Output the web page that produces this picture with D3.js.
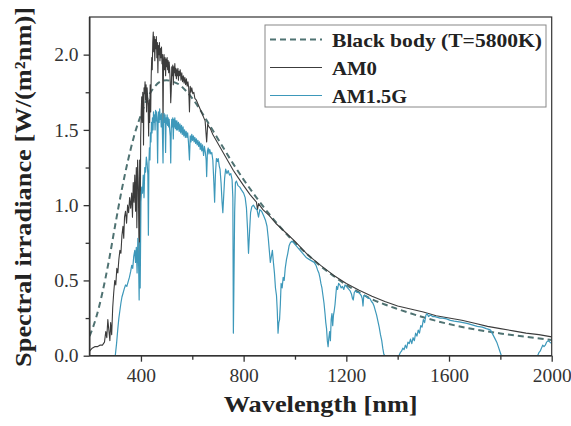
<!DOCTYPE html>
<html><head><meta charset="utf-8">
<script src="https://cdn.jsdelivr.net/npm/d3@7"></script>
<style>body{margin:0;background:#fff} svg{display:block}</style>
</head><body><svg id="chart" width="571" height="426"></svg>
<script>
const xTicks=[400,800,1200,1600,2000];
const xMinorTicks=[600,1000,1400,1800];
const yTicks=[0,0.5,1.0,1.5,2.0];
const yMinorTicks=[0.25,0.75,1.25,1.75];
const seriesNames=["Black body (T=5800K)","AM0","AM1.5G"];
const xTitle="Wavelength [nm]";
const yTitle="Spectral irradiance [W/(m\u00B2nm)]";

const blackBody=[[200,0.13],[225,0.25],[250,0.42],[275,0.63],[300,0.87],[325,1.10],[350,1.30],[375,1.47],[400,1.60],[425,1.71],[450,1.78],[475,1.82],[500,1.83],[525,1.82],[550,1.80],[575,1.76],[600,1.71],[650,1.58],[700,1.44],[750,1.30],[800,1.17],[850,1.05],[900,0.94],[950,0.84],[1000,0.75],[1050,0.67],[1100,0.595],[1150,0.53],[1200,0.47],[1250,0.42],[1300,0.375],[1350,0.34],[1400,0.31],[1500,0.255],[1600,0.21],[1700,0.175],[1800,0.148],[1900,0.125],[2000,0.105]];

const am0=[[200,0.03],[210,0.05],[220,0.06],[230,0.06],[240,0.07],[250,0.07],[258,0.09],[263,0.16],[267,0.12],[271,0.24],[275,0.17],[279,0.10],[282,0.22],[286,0.14],[290,0.32],[294,0.42],[298,0.50],[302,0.47],[306,0.58],[310,0.55],[314,0.64],[318,0.70],[322,0.68],[326,0.80],[330,0.86],[333,0.78],[336,0.92],[340,0.96],[344,0.88],[348,1.00],[352,0.95],[356,1.05],[360,0.98],[364,1.08],[367,0.92],[370,1.15],[373,1.02],[376,1.20],[379,0.96],[382,1.25],[384,0.85],[387,1.30],[390,1.12],[393,0.60],[395,1.30],[397,0.75],[399,1.45],[401,1.62],[403,1.72],[405,1.55],[407,1.75],[409,1.70],[410,1.40],[412,1.78],[414,1.74],[416,1.82],[418,1.70],[420,1.80],[422,1.62],[424,1.78],[426,1.72],[428,1.66],[430,1.46],[432,1.70],[434,1.55],[436,1.80],[438,1.62],[440,1.86],[442,1.98],[444,1.90],[446,2.08],[448,2.15],[450,2.02],[452,2.12],[454,1.96],[456,2.10],[458,2.04],[460,2.12],[462,1.98],[464,2.08],[466,1.88],[468,2.06],[470,2.00],[472,2.08],[474,1.96],[476,2.04],[478,1.98],[480,2.05],[482,1.94],[484,2.00],[486,1.50],[488,1.96],[490,2.00],[492,1.90],[494,1.98],[496,1.86],[498,1.97],[500,1.92],[502,1.98],[504,1.90],[506,1.96],[508,1.88],[510,1.95],[512,1.90],[514,1.82],[516,1.68],[518,1.76],[520,1.92],[522,1.86],[524,1.93],[526,1.80],[528,1.92],[530,1.88],[532,1.94],[534,1.86],[536,1.91],[538,1.84],[540,1.90],[542,1.86],[544,1.91],[546,1.83],[548,1.89],[550,1.86],[553,1.90],[556,1.83],[559,1.88],[562,1.82],[565,1.86],[568,1.81],[571,1.85],[574,1.80],[577,1.84],[580,1.79],[583,1.82],[586,1.78],[589,1.62],[592,1.79],[595,1.75],[598,1.78],[602,1.74],[606,1.75],[610,1.71],[615,1.70],[620,1.68],[625,1.66],[630,1.64],[635,1.62],[640,1.60],[645,1.58],[650,1.56],[656,1.42],[660,1.54],[665,1.52],[670,1.51],[680,1.47],[690,1.44],[700,1.41],[720,1.35],[740,1.29],[760,1.23],[780,1.18],[800,1.13],[825,1.07],[850,1.02],[854,0.97],[858,1.01],[875,0.97],[900,0.93],[925,0.88],[950,0.84],[975,0.80],[1000,0.76],[1050,0.67],[1100,0.60],[1150,0.535],[1200,0.48],[1250,0.435],[1300,0.395],[1350,0.36],[1400,0.33],[1450,0.31],[1500,0.29],[1550,0.265],[1600,0.25],[1650,0.235],[1700,0.215],[1750,0.195],[1800,0.18],[1850,0.165],[1900,0.15],[1950,0.14],[2000,0.125]];

const am15g=[[300,0],[305,0.08],[310,0.18],[314,0.25],[318,0.30],[322,0.35],[326,0.39],[331,0.42],[336,0.45],[340,0.47],[345,0.46],[350,0.49],[355,0.52],[360,0.56],[364,0.60],[368,0.58],[372,0.66],[376,0.70],[379,0.62],[382,0.72],[385,0.55],[388,0.78],[391,0.60],[393,0.37],[395,0.75],[397,0.45],[400,1.02],[403,1.12],[406,1.08],[409,1.20],[412,1.05],[415,1.25],[418,1.22],[421,1.32],[424,1.28],[427,1.20],[429,0.80],[431,1.28],[433,1.38],[435,1.30],[437,1.48],[439,1.42],[441,1.55],[443,1.48],[445,1.58],[447,1.50],[449,1.62],[451,1.55],[453,1.60],[455,1.50],[457,1.63],[459,1.56],[461,1.62],[463,1.52],[465,1.28],[467,1.58],[469,1.62],[471,1.55],[473,1.64],[475,1.57],[477,1.60],[479,1.52],[481,1.61],[483,1.54],[486,1.28],[488,1.56],[490,1.61],[492,1.55],[494,1.60],[496,1.35],[498,1.58],[500,1.54],[502,1.60],[504,1.53],[506,1.58],[508,1.52],[510,1.57],[512,1.50],[514,1.46],[516,1.28],[518,1.50],[520,1.57],[522,1.52],[524,1.58],[526,1.44],[528,1.57],[530,1.52],[532,1.58],[534,1.51],[536,1.56],[538,1.50],[540,1.56],[543,1.50],[546,1.55],[549,1.49],[552,1.54],[555,1.48],[558,1.53],[561,1.47],[564,1.52],[567,1.46],[570,1.50],[573,1.45],[576,1.49],[579,1.45],[582,1.48],[585,1.42],[589,1.30],[592,1.46],[595,1.42],[598,1.47],[601,1.43],[604,1.46],[607,1.42],[610,1.45],[613,1.41],[616,1.44],[619,1.40],[622,1.43],[625,1.39],[628,1.42],[631,1.37],[634,1.41],[637,1.36],[640,1.40],[644,1.33],[647,1.39],[651,1.35],[654,1.30],[656,1.19],[659,1.36],[662,1.38],[665,1.34],[668,1.37],[672,1.34],[676,1.35],[680,1.30],[684,1.15],[687,1.02],[690,1.20],[694,1.31],[698,1.29],[701,1.31],[705,1.26],[708,1.24],[712,1.15],[716,1.02],[719,0.95],[722,1.05],[726,1.18],[730,1.24],[735,1.21],[740,1.23],[745,1.20],[750,1.21],[755,1.17],[758,1.05],[760,0.15],[762,0.45],[765,0.95],[768,1.15],[772,1.16],[778,1.13],[785,1.12],[792,1.10],[800,1.08],[806,1.05],[811,0.98],[815,0.85],[819,0.68],[823,0.82],[827,0.95],[832,0.99],[838,1.00],[845,0.98],[852,0.97],[858,0.92],[863,0.97],[870,0.96],[878,0.93],[885,0.90],[891,0.86],[896,0.78],[900,0.70],[904,0.62],[908,0.66],[912,0.70],[916,0.62],[920,0.55],[924,0.45],[928,0.40],[931,0.30],[934,0.15],[937,0.22],[940,0.24],[943,0.34],[946,0.48],[950,0.45],[954,0.52],[958,0.50],[962,0.58],[967,0.64],[972,0.68],[977,0.73],[982,0.75],[988,0.76],[995,0.75],[1005,0.73],[1015,0.71],[1025,0.69],[1035,0.67],[1045,0.65],[1055,0.64],[1065,0.63],[1075,0.62],[1082,0.60],[1088,0.57],[1093,0.55],[1097,0.52],[1101,0.48],[1105,0.45],[1109,0.40],[1113,0.35],[1117,0.28],[1120,0.22],[1123,0.18],[1126,0.10],[1129,0.06],[1132,0.12],[1135,0.16],[1138,0.10],[1141,0.24],[1144,0.28],[1147,0.20],[1150,0.27],[1153,0.30],[1156,0.34],[1159,0.40],[1162,0.46],[1166,0.44],[1170,0.48],[1175,0.47],[1180,0.45],[1185,0.46],[1190,0.44],[1195,0.47],[1200,0.46],[1205,0.45],[1210,0.44],[1215,0.43],[1220,0.41],[1224,0.38],[1227,0.37],[1231,0.42],[1236,0.43],[1242,0.42],[1248,0.42],[1253,0.41],[1258,0.40],[1262,0.38],[1265,0.33],[1268,0.40],[1274,0.40],[1280,0.39],[1286,0.38],[1292,0.38],[1298,0.36],[1303,0.35],[1308,0.33],[1313,0.30],[1318,0.27],[1323,0.23],[1328,0.19],[1333,0.14],[1338,0.10],[1342,0.05],[1346,0.01],[1350,0],[1405,0],[1410,0.02],[1415,0.03],[1420,0.05],[1425,0.04],[1430,0.07],[1435,0.05],[1440,0.09],[1445,0.08],[1450,0.11],[1455,0.08],[1460,0.12],[1465,0.10],[1470,0.15],[1475,0.13],[1480,0.17],[1485,0.15],[1490,0.20],[1495,0.19],[1500,0.24],[1505,0.22],[1510,0.27],[1515,0.28],[1520,0.26],[1528,0.27],[1536,0.26],[1545,0.26],[1555,0.255],[1565,0.25],[1575,0.25],[1590,0.245],[1605,0.235],[1620,0.23],[1640,0.225],[1655,0.22],[1670,0.215],[1690,0.205],[1710,0.195],[1730,0.19],[1745,0.18],[1755,0.175],[1762,0.17],[1768,0.15],[1774,0.13],[1780,0.11],[1786,0.09],[1792,0.06],[1798,0.03],[1804,0],[1945,0],[1950,0.02],[1955,0.03],[1960,0.05],[1965,0.07],[1970,0.06],[1975,0.07],[1980,0.09],[1987,0.10],[1993,0.09],[2000,0.08]];

const colors=["#4f7272","#3c3c3c","#3d98ba"];

const svg=d3.select("#chart");
const L=89.6,T=17,R=551.7,B=355.7;
const x=d3.scaleLinear().domain([200,2000]).range([L,R]);
const y=d3.scaleLinear().domain([0,2.25]).range([B,T]);
const serif="'Liberation Serif','Times New Roman',serif";

svg.append("defs").append("clipPath").attr("id","clip")
  .append("rect").attr("x",L).attr("y",T).attr("width",R-L).attr("height",B-T);

// lines
const smooth=d3.line().x(d=>x(d[0])).y(d=>y(d[1])).curve(d3.curveMonotoneX);
const lin=d3.line().x(d=>x(d[0])).y(d=>y(d[1]));
const plot=svg.append("g").attr("clip-path","url(#clip)");
plot.append("path").datum(blackBody).attr("d",smooth)
  .attr("fill","none").attr("stroke",colors[0]).attr("stroke-width",2).attr("stroke-dasharray","6,4");
plot.append("path").datum(am0).attr("d",lin)
  .attr("fill","none").attr("stroke",colors[1]).attr("stroke-width",1.1).attr("stroke-linejoin","round");
plot.append("path").datum(am15g).attr("d",lin)
  .attr("fill","none").attr("stroke",colors[2]).attr("stroke-width",1.2).attr("stroke-linejoin","round");

// axes
const gx=svg.append("g").attr("transform",`translate(0,${B})`)
  .call(d3.axisBottom(x).tickValues(xTicks).tickSize(6).tickPadding(6).tickFormat(d3.format("d")));
const gxm=svg.append("g").attr("transform",`translate(0,${B})`)
  .call(d3.axisBottom(x).tickValues(xMinorTicks).tickSize(4).tickFormat(""));
const gy=svg.append("g").attr("transform",`translate(${L},0)`)
  .call(d3.axisLeft(y).tickValues(yTicks).tickSize(6).tickPadding(5).tickFormat(d3.format(".1f")));
const gym=svg.append("g").attr("transform",`translate(${L},0)`)
  .call(d3.axisLeft(y).tickValues(yMinorTicks).tickSize(4).tickFormat(""));
[gx,gxm,gy,gym].forEach(g=>{
  g.select(".domain").remove();
  g.selectAll(".tick line").attr("stroke","#333").attr("stroke-width",1.3);
  g.selectAll(".tick text").attr("font-family",serif).attr("font-size",19.5).attr("fill","#333");
});

// frame
svg.append("rect").attr("x",L).attr("y",T).attr("width",R-L).attr("height",B-T)
  .attr("fill","none").attr("stroke","#333").attr("stroke-width",1.2);
svg.append("line").attr("x1",L).attr("x2",R).attr("y1",B).attr("y2",B).attr("stroke","#333").attr("stroke-width",1.6);
svg.append("line").attr("x1",L).attr("x2",L).attr("y1",T).attr("y2",B).attr("stroke","#333").attr("stroke-width",1.6);

// titles
svg.append("text").attr("x",(L+R)/2).attr("y",412).attr("text-anchor","middle")
  .attr("font-family",serif).attr("font-weight","bold").attr("font-size",23).attr("fill","#222")
  .attr("textLength",194).attr("lengthAdjust","spacingAndGlyphs").text(xTitle);
svg.append("text").attr("transform","translate(31,187) rotate(-90)").attr("text-anchor","middle")
  .attr("font-family",serif).attr("font-weight","bold").attr("font-size",23).attr("fill","#222")
  .attr("textLength",360).attr("lengthAdjust","spacingAndGlyphs").text(yTitle);

// legend
const lg=svg.append("g");
lg.append("rect").attr("x",265).attr("y",25).attr("width",281).attr("height",82)
  .attr("fill","#fff").attr("stroke","#888").attr("stroke-width",1);
const lens=[210,45,75];
seriesNames.forEach((n,i)=>{
  const yy=39.5+i*28;
  lg.append("line").attr("x1",270).attr("x2",322).attr("y1",yy).attr("y2",yy)
    .attr("stroke",colors[i]).attr("stroke-width",i===0?2:1.2)
    .attr("stroke-dasharray",i===0?"6,4":null);
  lg.append("text").attr("x",332).attr("y",yy+7).attr("font-family",serif)
    .attr("font-weight","bold").attr("font-size",19).attr("fill","#222")
    .attr("textLength",lens[i]).attr("lengthAdjust","spacingAndGlyphs").text(n);
});
</script></body></html>
